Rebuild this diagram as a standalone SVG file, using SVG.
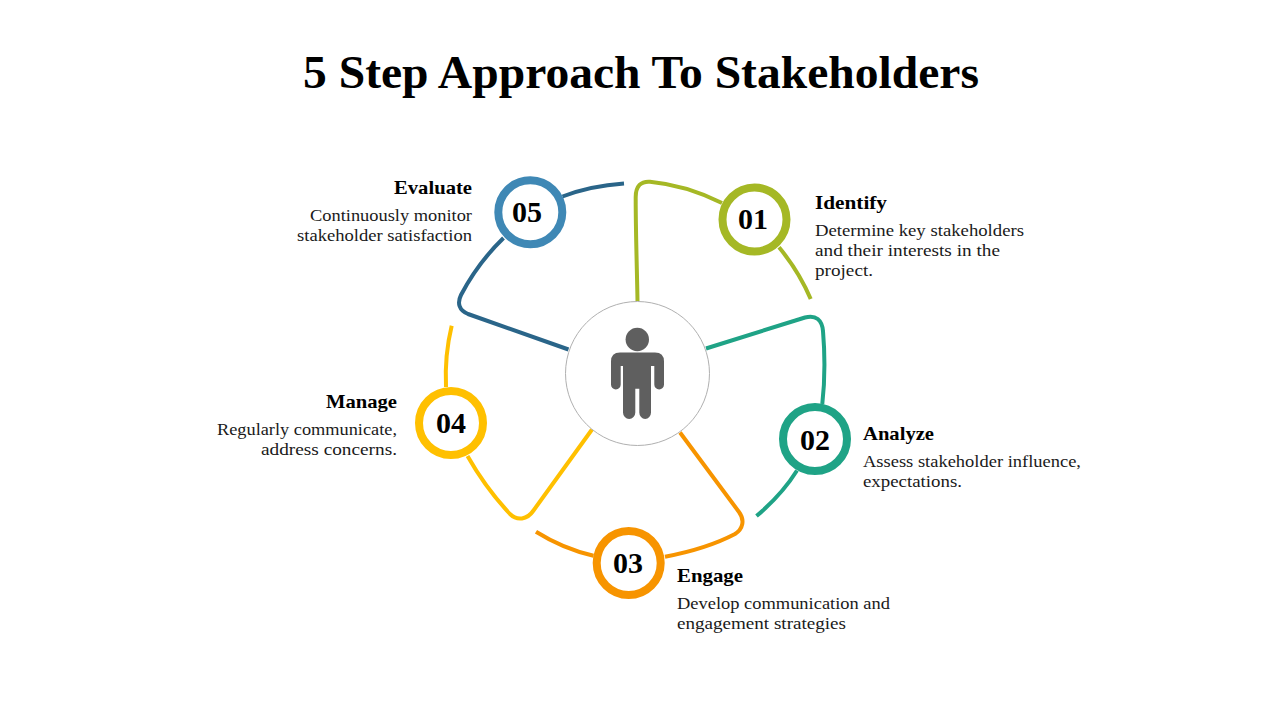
<svg xmlns="http://www.w3.org/2000/svg" width="1280" height="720" viewBox="0 0 1280 720">
<style>
text{font-family:"Liberation Serif","DejaVu Serif",serif;fill:#000}
.t{font-size:46px;font-weight:700}
.h{font-size:19.500px;font-weight:700}
.b{font-size:16.500px;fill:#1a1a1a}
.n{font-size:30px;font-weight:700;text-anchor:middle}
.c{fill:none;stroke-width:4;stroke-linecap:butt;stroke-linejoin:round}
.r{fill:#fff;stroke-width:8}
</style>
<rect width="1280" height="720" fill="#fff"/>
<text class="t" x="303" y="88" textLength="676" lengthAdjust="spacingAndGlyphs">5 Step Approach To Stakeholders</text>
<g id="connectors">
<path class="c" stroke="#a5b825" d="M637.500 301C637 270 635.600 230 635.700 197C635.800 186 641 181 650 181.700C675 184 700 192 722 203"/>
<path class="c" stroke="#a5b825" d="M779 247.300C792 263 803 281 810.700 299"/>
<path class="c" stroke="#1fa386" d="M706 348.500L805 317.500C816 314.500 822 320 823 331C825 355 825 380 822.300 404"/>
<path class="c" stroke="#1fa386" d="M797 470.500C786 488 772 503 756.500 516"/>
<path class="c" stroke="#f79400" d="M680 432.500L739 512C745 520 743 529 735 534C714 545 690 552 665 556.700"/>
<path class="c" stroke="#f79400" d="M593.500 555.700C573 551 554 543 536 531.700"/>
<path class="c" stroke="#ffc000" d="M592 429.500L533.500 510.500C527 520 517 521 510 514C494 497 480 478 467.500 456"/>
<path class="c" stroke="#ffc000" d="M446 387C445 366 447 345 451.700 325.700"/>
<path class="c" stroke="#2a6589" d="M568.500 349.500L468 314C459 310.500 457 303 461 295C472 274 486 255 503.500 238"/>
<path class="c" stroke="#2a6589" d="M562.500 196.500C582 189 602 185 624 183.500"/>
</g>
<g id="center">
<circle cx="637.500" cy="373.500" r="72" fill="#fff" stroke="#b0b0b0" stroke-width="1"/>
<circle cx="637.300" cy="339.500" r="11.700" fill="#5f5f5f"/>
<path fill="#5f5f5f" d="M620 352.500H655Q664 352.500 664 361.500V384.500A4.850 5 0 0 1 654.300 384.500V366H651V412.500A5.850 6.500 0 0 1 639.300 412.500V388.700H635.300V412.500A6.150 6.500 0 0 1 623 412.500V366H620.700V384.500A4.850 5 0 0 1 611 384.500V361.500Q611 352.500 620 352.500Z"/>
</g>
<g id="node-01">
<circle class="r" cx="754.500" cy="219.500" r="32" stroke="#a5b825"/>
<text class="n" x="753" y="229">01</text>
<text class="h" x="815" y="209" textLength="72" lengthAdjust="spacingAndGlyphs">Identify</text>
<text class="b" x="815" y="236" textLength="209" lengthAdjust="spacingAndGlyphs">Determine key stakeholders</text>
<text class="b" x="815" y="256" textLength="185" lengthAdjust="spacingAndGlyphs">and their interests in the</text>
<text class="b" x="815" y="276" textLength="58" lengthAdjust="spacingAndGlyphs">project.</text>
</g>
<g id="node-02">
<circle class="r" cx="815" cy="439" r="32" stroke="#1fa386"/>
<text class="n" x="815" y="449.500">02</text>
<text class="h" x="863" y="440" textLength="71" lengthAdjust="spacingAndGlyphs">Analyze</text>
<text class="b" x="863" y="467" textLength="218" lengthAdjust="spacingAndGlyphs">Assess stakeholder influence,</text>
<text class="b" x="863" y="487" textLength="99" lengthAdjust="spacingAndGlyphs">expectations.</text>
</g>
<g id="node-03">
<circle class="r" cx="628.700" cy="563" r="32" stroke="#f79400"/>
<text class="n" x="628" y="572.500">03</text>
<text class="h" x="677" y="582" textLength="66" lengthAdjust="spacingAndGlyphs">Engage</text>
<text class="b" x="677" y="609" textLength="213" lengthAdjust="spacingAndGlyphs">Develop communication and</text>
<text class="b" x="677" y="629" textLength="169" lengthAdjust="spacingAndGlyphs">engagement strategies</text>
</g>
<g id="node-04">
<circle class="r" cx="451" cy="423" r="32" stroke="#ffc000"/>
<text class="n" x="451" y="433">04</text>
<text class="h" x="326" y="408" textLength="71" lengthAdjust="spacingAndGlyphs">Manage</text>
<text class="b" x="217" y="435" textLength="180" lengthAdjust="spacingAndGlyphs">Regularly communicate,</text>
<text class="b" x="261" y="455" textLength="136" lengthAdjust="spacingAndGlyphs">address concerns.</text>
</g>
<g id="node-05">
<circle class="r" cx="530.300" cy="212.300" r="32" stroke="#3f88b5"/>
<text class="n" x="527" y="222">05</text>
<text class="h" x="394" y="194" textLength="78" lengthAdjust="spacingAndGlyphs">Evaluate</text>
<text class="b" x="310" y="221" textLength="162" lengthAdjust="spacingAndGlyphs">Continuously monitor</text>
<text class="b" x="297" y="241" textLength="175" lengthAdjust="spacingAndGlyphs">stakeholder satisfaction</text>
</g>
</svg>
